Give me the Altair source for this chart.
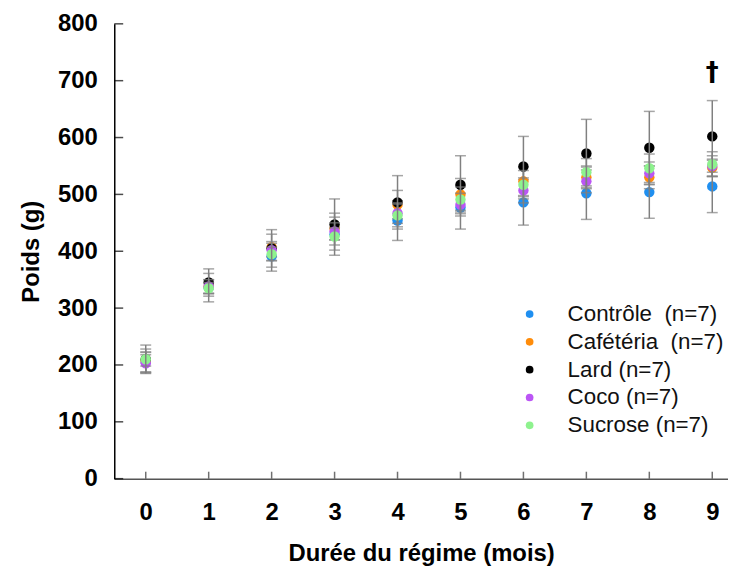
import altair as alt
import pandas as pd

# ---- data ----
months = [0, 1, 2, 3, 4, 5, 6, 7, 8, 9]
groups = ["Contrôle\u00a0 (n=7)", "Cafétéria\u00a0 (n=7)", "Lard (n=7)", "Coco (n=7)", "Sucrose (n=7)"]
colors = ["#1f8ff0", "#ff8c0a", "#000000", "#bb55f5", "#8ef28e"]

controle_mean = [205, 336, 391, 430, 454, 477, 486, 502, 504, 514]
controle_sd = [18, 25, 26, 37, 35, 38, 40, 46, 46, 46]
cafeteria_mean = [207, 338, 407, 440, 482, 500, 523, 530, 530, 547]
cafeteria_sd = [21, 12, 23, 20, 25, 28, 25, 20, 20, 15]
lard_mean = [210, 345, 405, 447, 486, 517, 549, 572, 582, 602]
lard_sd = [25, 24, 33, 45, 47, 51, 53, 60, 64, 63]
coco_mean = [203, 338, 402, 435, 467, 482, 507, 523, 537, 550]
coco_sd = [15, 12, 12, 15, 18, 20, 22, 20, 20, 18]
sucrose_mean = [210, 335, 395, 426, 463, 491, 517, 539, 546, 553]
sucrose_sd = [12, 10, 12, 15, 20, 22, 25, 24, 25, 22]

y_ticks = [0, 100, 200, 300, 400, 500, 600, 700, 800]
dagger_month = [9]
dagger_y = [714]

means = [controle_mean, cafeteria_mean, lard_mean, coco_mean, sucrose_mean]
sds = [controle_sd, cafeteria_sd, lard_sd, coco_sd, sucrose_sd]

rows = []
for gi, g in enumerate(groups):
    for m, mu, sd in zip(months, means[gi], sds[gi]):
        rows.append({"group": g, "gi": gi, "month": m, "mean": mu,
                     "lo": mu - sd, "hi": mu + sd})
df = pd.DataFrame(rows)

FONT = "Liberation Sans"
W, H = 618, 458
xscale = alt.Scale(domain=[-0.5, 9.25], nice=False, zero=False)
yscale = alt.Scale(domain=[0, 800], nice=False)
cscale = alt.Scale(domain=groups, range=colors)

base = alt.Chart(df)
layers = []
for gi, g in enumerate(groups):
    sub = base.transform_filter(alt.datum.gi == gi)
    pts = sub.mark_circle(size=110, opacity=1).encode(
        x=alt.X("month:Q", scale=xscale,
                axis=alt.Axis(title="Durée du régime (mois)", values=months, format="d",
                              tickSize=0, labelPadding=22, titlePadding=17,
                              domainColor="#555555", domainWidth=1.5)),
        y=alt.Y("mean:Q", scale=yscale,
                axis=alt.Axis(title="Poids (g)", values=y_ticks, format="d", tickSize=0,
                              labelPadding=17, titlePadding=14,
                              domainColor="#000000", domainWidth=1.5)),
        color=alt.Color("group:N", scale=cscale, sort=groups,
                        legend=alt.Legend(title=None)),
    )
    rule = sub.mark_rule(color="#808080", strokeWidth=1.5).encode(
        x=alt.X("month:Q", scale=xscale), y=alt.Y("lo:Q", scale=yscale), y2="hi:Q")
    cap_hi = sub.mark_tick(orient="horizontal", color="#808080", size=11, thickness=1.5).encode(
        x=alt.X("month:Q", scale=xscale), y=alt.Y("hi:Q", scale=yscale))
    cap_lo = sub.mark_tick(orient="horizontal", color="#808080", size=11, thickness=1.5).encode(
        x=alt.X("month:Q", scale=xscale), y=alt.Y("lo:Q", scale=yscale))
    layers += [pts, rule, cap_hi, cap_lo]

xt = alt.Chart(pd.DataFrame({"m": months})).mark_tick(
    orient="vertical", color="#333333", size=7, thickness=1.5).encode(
    x=alt.X("m:Q", scale=xscale), y=alt.value(H - 3.5))
yt = alt.Chart(pd.DataFrame({"v": y_ticks})).mark_tick(
    orient="horizontal", color="#000000", size=9, thickness=1.5).encode(
    y=alt.Y("v:Q", scale=yscale), x=alt.value(4.5))

dag = alt.Chart(pd.DataFrame({"m": dagger_month, "v": dagger_y})).mark_text(
    text="†", font="DejaVu Sans", fontSize=26, fontWeight="bold", color="#000000").encode(
    x=alt.X("m:Q", scale=xscale), y=alt.Y("v:Q", scale=yscale))

chart = alt.layer(*layers, xt, yt, dag).properties(
    width=W, height=H, padding={"left": 11, "top": 2, "right": 0, "bottom": 0}
).configure_view(stroke=None).configure_axis(
    labelFont=FONT, labelFontSize=24, labelFontWeight="bold", labelColor="#000000",
    titleFont=FONT, titleFontSize=24, titleFontWeight="bold", titleColor="#000000",
    grid=False,
).configure_legend(
    orient="none", legendX=407, legendY=281, padding=0,
    labelFont=FONT, labelFontSize=22.5, labelColor="#111111", labelOffset=27,
    symbolType="circle", symbolSize=60, symbolStrokeWidth=0, rowPadding=5,
    labelLimit=300,
)

chart.save("out.html", embed_options={"renderer": "svg", "actions": False})
